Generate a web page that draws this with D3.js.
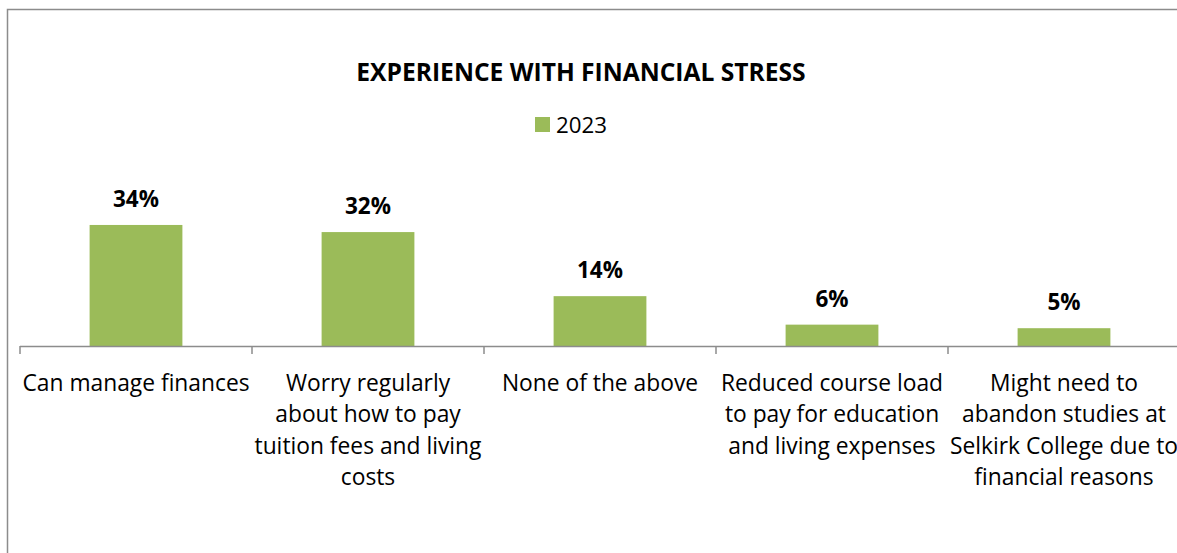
<!DOCTYPE html>
<html>
<head>
<meta charset="utf-8">
<script src="https://cdn.jsdelivr.net/npm/d3@7"></script>
<style>
  html, body { margin: 0; padding: 0; background: #fff; }
  svg { display: block; }
  text { font-family: "Open Sans", "Noto Sans", sans-serif; }
</style>
</head>
<body>
<svg id="chart" width="1177" height="553"></svg>
<script>
const title = "EXPERIENCE WITH FINANCIAL STRESS";
const seriesName = "2023";
const categories = [
  ["Can manage finances"],
  ["Worry regularly", "about how to pay", "tuition fees and living", "costs"],
  ["None of the above"],
  ["Reduced course load", "to pay for education", "and living expenses"],
  ["Might need to", "abandon studies at", "Selkirk College due to", "financial reasons"]
];
const values = [34, 32, 14, 6, 5];
const valueLabels = ["34%", "32%", "14%", "6%", "5%"];

const svg = d3.select("#chart");
const W = 1177, H = 553;
const color = "#9BBB59";

svg.append("rect").attr("x", 7.5).attr("y", 9.5).attr("width", W).attr("height", H)
  .attr("fill", "none").attr("stroke", "#8c8c8c").attr("stroke-width", 1.5);

const x0 = 20, step = 232;
const x = d3.scaleBand().domain(d3.range(categories.length))
  .range([x0, x0 + step * categories.length]).paddingInner(0.6).paddingOuter(0.3);
const y = d3.scaleLinear().domain([0, 40]).range([346, 346 - 142.4]);

svg.append("text").attr("x", 581).attr("y", 80.5).attr("text-anchor", "middle")
  .attr("font-weight", "bold").attr("font-size", 24.6).attr("fill", "#000").text(title);

svg.append("rect").attr("x", 535).attr("y", 117).attr("width", 15).attr("height", 15).attr("fill", color);
svg.append("text").attr("x", 556).attr("y", 132.5).attr("font-size", 22.3).attr("fill", "#000").text(seriesName);

svg.selectAll("rect.bar").data(values).join("rect").attr("class", "bar")
  .attr("x", (d, i) => x(i)).attr("width", x.bandwidth())
  .attr("y", d => y(d)).attr("height", d => y(0) - y(d)).attr("fill", color);

svg.selectAll("text.val").data(values).join("text").attr("class", "val")
  .attr("x", (d, i) => x(i) + x.bandwidth() / 2).attr("y", d => y(d) - 18)
  .attr("text-anchor", "middle").attr("font-weight", "bold").attr("font-size", 22.5)
  .text((d, i) => valueLabels[i]);

const xa = d3.scaleLinear().domain([0, categories.length]).range([x0, x0 + step * categories.length]);
const g = svg.append("g");
g.append("line").attr("x1", x0).attr("x2", W).attr("y1", 346.5).attr("y2", 346.5)
  .attr("stroke", "#8c8c8c").attr("stroke-width", 1.5);
g.selectAll("line.tick").data(d3.range(categories.length + 1)).join("line").attr("class", "tick")
  .attr("x1", d => xa(d)).attr("x2", d => xa(d)).attr("y1", 346).attr("y2", 354)
  .attr("stroke", "#8c8c8c").attr("stroke-width", 1.5);

categories.forEach((lines, i) => {
  const t = svg.append("text").attr("text-anchor", "middle").attr("font-size", 22.8).attr("fill", "#000");
  lines.forEach((ln, j) => {
    t.append("tspan").attr("x", x(i) + x.bandwidth() / 2).attr("y", 391 + j * 31.3).text(ln);
  });
});
</script>
</body>
</html>
